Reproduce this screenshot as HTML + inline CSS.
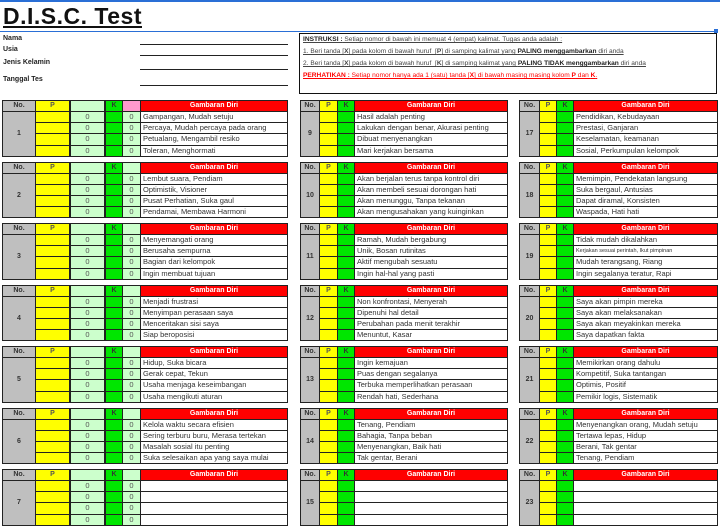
<!DOCTYPE html>
<html><head><meta charset="utf-8">
<style>
body{margin:0;width:720px;height:484px;overflow:hidden;background:#fff;font-family:"Liberation Sans",sans-serif;position:relative}
.a{position:absolute;box-sizing:border-box}
.c{position:absolute;box-sizing:border-box;border:1px solid #222;font-size:7.5px;line-height:10px;white-space:nowrap;overflow:hidden;color:#333}
.lbl{position:absolute;font-size:7px;font-weight:bold;color:#222}
.ln{position:absolute;height:1px;background:#222}
.ins{position:absolute;font-size:6.6px;left:303px;white-space:nowrap;text-decoration:underline;color:#444}
</style></head><body>
<div class="a" style="left:0;top:0;width:720px;height:2px;background:#2a6fd6"></div>
<div class="a" style="left:3px;top:3px;font-size:23px;font-weight:bold;text-decoration:underline;color:#111;letter-spacing:0.5px">D.I.S.C. Test</div>
<div class="a" style="left:0;top:31px;width:716px;height:1px;background:#2a6fd6"></div>
<div class="a" style="left:714px;top:29px;width:4px;height:4px;background:#2a6fd6"></div>
<div class="lbl" style="left:3px;top:35px">Nama</div>
<div class="lbl" style="left:3px;top:46px">Usia</div>
<div class="lbl" style="left:3px;top:59px">Jenis Kelamin</div>
<div class="lbl" style="left:3px;top:76px">Tanggal Tes</div>
<div class="ln" style="left:140px;top:44px;width:148px"></div>
<div class="ln" style="left:140px;top:55px;width:148px"></div>
<div class="ln" style="left:140px;top:69px;width:148px"></div>
<div class="ln" style="left:140px;top:85px;width:148px"></div>
<div class="a" style="left:299px;top:33px;width:418px;height:61px;border:1px solid #111"></div>
<div class="ins" style="top:36px"><b style="color:#222">INSTRUKSI :</b> Setiap nomor di bawah ini memuat 4 (empat) kalimat. Tugas anda adalah :</div>
<div class="ins" style="top:48px">1. Beri tanda [<b>X</b>] pada kolom di bawah huruf&nbsp; [<b>P</b>] di samping kalimat yang <b style="color:#222">PALING menggambarkan</b> diri anda</div>
<div class="ins" style="top:60px">2. Beri tanda [<b>X</b>] pada kolom di bawah huruf&nbsp; [<b>K</b>] di samping kalimat yang <b style="color:#222">PALING TIDAK menggambarkan</b> diri anda</div>
<div class="ins" style="top:72px;color:#f00"><b>PERHATIKAN :</b> Setiap nomor hanya ada 1 (satu) tanda [<b>X</b>] di bawah masing masing kolom <b>P</b> dan <b>K</b>.</div>
<div id="root"></div>
<script>
const items = {
1:["Gampangan, Mudah setuju","Percaya, Mudah percaya pada orang","Petualang, Mengambil resiko","Toleran, Menghormati"],
2:["Lembut suara, Pendiam","Optimistik, Visioner","Pusat Perhatian, Suka gaul","Pendamai, Membawa Harmoni"],
3:["Menyemangati orang","Berusaha sempurna","Bagian dari kelompok","Ingin membuat tujuan"],
4:["Menjadi frustrasi","Menyimpan perasaan saya","Menceritakan sisi saya","Siap beroposisi"],
5:["Hidup, Suka bicara","Gerak cepat, Tekun","Usaha menjaga keseimbangan","Usaha mengikuti aturan"],
6:["Kelola waktu secara efisien","Sering terburu buru, Merasa tertekan","Masalah sosial itu penting","Suka selesaikan apa yang saya mulai"],
7:["","","",""],
9:["Hasil adalah penting","Lakukan dengan benar, Akurasi penting","Dibuat menyenangkan","Mari kerjakan bersama"],
10:["Akan berjalan terus tanpa kontrol diri","Akan membeli sesuai dorongan hati","Akan menunggu, Tanpa tekanan","Akan mengusahakan  yang kuinginkan"],
11:["Ramah, Mudah bergabung","Unik, Bosan rutinitas","Aktif mengubah sesuatu","Ingin hal-hal yang pasti"],
12:["Non konfrontasi, Menyerah","Dipenuhi hal detail","Perubahan pada menit terakhir","Menuntut, Kasar"],
13:["Ingin kemajuan","Puas dengan segalanya","Terbuka memperlihatkan perasaan","Rendah hati, Sederhana"],
14:["Tenang, Pendiam","Bahagia, Tanpa beban","Menyenangkan, Baik hati","Tak gentar, Berani"],
15:["","","",""],
17:["Pendidikan, Kebudayaan","Prestasi, Ganjaran","Keselamatan, keamanan","Sosial, Perkumpulan kelompok"],
18:["Memimpin, Pendekatan langsung","Suka bergaul, Antusias","Dapat diramal, Konsisten","Waspada, Hati hati"],
19:["Tidak mudah dikalahkan","Kerjakan sesuai perintah, Ikut pimpinan","Mudah terangsang, Riang","Ingin segalanya teratur, Rapi"],
20:["Saya akan pimpin mereka","Saya akan melaksanakan","Saya akan meyakinkan mereka","Saya dapatkan fakta"],
21:["Memikirkan orang dahulu","Kompetitif, Suka tantangan","Optimis, Positif","Pemikir logis, Sistematik"],
22:["Menyenangkan orang, Mudah setuju","Tertawa lepas, Hidup","Berani, Tak gentar","Tenang, Pendiam"],
23:["","","",""]
};
const tops=[100,161.5,223,284.5,346,407.5,469];
const root=document.getElementById('root');
function cell(x,y,w,h,bg,txt,extra){
  const d=document.createElement('div');
  d.className='c';
  d.style.cssText+='left:'+x+'px;top:'+y+'px;width:'+w+'px;height:'+h+'px;background:'+bg+';'+(extra||'');
  d.textContent=txt;
  root.appendChild(d);
  return d;
}
const cols=[
 {no:[2,34],p:[35,35],z1:[70,35],k:[105,18],z2:[122,19],g:[140,148],start:1,zeros:true},
 {no:[300,20],p:[319,19],k:[337,18],g:[354,154],start:9},
 {no:[519,21],p:[539,18],k:[556,18],g:[573,145],start:17}
];
cols.forEach((c,ci)=>{
 tops.forEach((t,bi)=>{
  const n=c.start+bi;
  const hd='text-align:center;font-weight:bold;font-size:7px;';
  const h=12,rh=11.2,ry=t+h-1;
  let d=cell(c.no[0],t,c.no[1],h,'#bfbfbf','No.',hd);
  
  
  d=cell(c.p[0],t,c.p[1],h,'#ffff00','P',hd+'color:#555');
  
  
  if(c.zeros){
   d=cell(c.z1[0],t,c.z1[1],h,'#ccffcc','',hd);
   
   
  }
  d=cell(c.k[0],t,c.k[1],h,'#00e600','K',hd+'color:#333');
  
  
  if(c.zeros){
   d=cell(c.z2[0],t,c.z2[1],h,bi===0?'#ff99cc':'#ccffcc','',hd);
   
   
  }
  d=cell(c.g[0],t,c.g[1],h,'#ff0000','Gambaran Diri',hd+'color:#fff');
  
  
  d=cell(c.no[0],ry,c.no[1],rh*4+1,'#bfbfbf',String(n),'text-align:center;font-weight:bold;font-size:7px;line-height:'+(rh*4-1)+'px');
  
  
  const list=items[n]||["","","",""];
  list.forEach((s,ri)=>{
   const y=ry+ri*rh;
   let e=cell(c.p[0],y,c.p[1],rh+1,'#ffff00','');
   
   
   if(c.zeros){
    e=cell(c.z1[0],y,c.z1[1],rh+1,'#ccffcc','0','text-align:center;color:#555');
    
    
   }
   e=cell(c.k[0],y,c.k[1],rh+1,'#00e600','');
   
   
   if(c.zeros){
    e=cell(c.z2[0],y,c.z2[1],rh+1,'#ccffcc','0','text-align:center;color:#555');
    
    
   }
   e=cell(c.g[0],y,c.g[1],rh+1,'#fff',s,'padding-left:2px;'+(s.length>38?'font-size:5.5px;':''));
   
   
  });
 });
});
</script>
</body></html>
